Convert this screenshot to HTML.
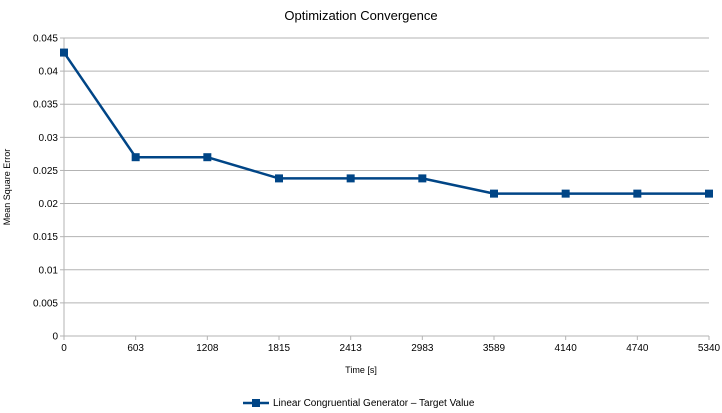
<!DOCTYPE html>
<html><head><meta charset="utf-8"><style>
body{margin:0;background:#fff;font-family:"Liberation Sans",sans-serif;}
svg text{font-family:"Liberation Sans",sans-serif;fill:#000;}
</style></head><body>
<svg id="chart" width="722" height="408" xmlns="http://www.w3.org/2000/svg">
<rect width="722" height="408" fill="#fff"/>
<text x="361" y="20" font-size="13" text-anchor="middle">Optimization Convergence</text>
<g id="grid"></g><g id="axes"></g><g id="series"></g>
<text x="361" y="373" font-size="9" text-anchor="middle">Time [s]</text>
<text transform="translate(10,187) rotate(-90)" font-size="9" text-anchor="middle">Mean Square Error</text>
<g>
<line x1="243" y1="403" x2="269" y2="403" stroke="#004586" stroke-width="2.5"/>
<rect x="252" y="399" width="8" height="8" fill="#004586"/>
<text x="273" y="406" font-size="10">Linear Congruential Generator – Target Value</text>
</g>
</svg>
<script>
const categories=["0","603","1208","1815","2413","2983","3589","4140","4740","5340"];
const values=[0.0428,0.027,0.027,0.0238,0.0238,0.0238,0.0215,0.0215,0.0215,0.0215];
const yTicks=[0,0.005,0.01,0.015,0.02,0.025,0.03,0.035,0.04,0.045];
const NS="http://www.w3.org/2000/svg";
const x0=64,x1=709,y0=336,y1=38,yMax=0.045;
const xs=i=>x0+i*(x1-x0)/(categories.length-1);
const ys=v=>y0-v/yMax*(y0-y1);
function mk(t,a,p){const e=document.createElementNS(NS,t);for(const k in a)e.setAttribute(k,a[k]);p.appendChild(e);return e;}
const grid=document.getElementById('grid'),axes=document.getElementById('axes'),ser=document.getElementById('series');
yTicks.forEach(v=>{
 const l=mk('line',{x1:x0,x2:x1,y1:ys(v),y2:ys(v),stroke:v===0?'#b3b3b3':'#b3b3b3','stroke-width':1},grid);
 
 
 const tk=mk('line',{x1:x0-4,x2:x0,y1:ys(v),y2:ys(v),stroke:'#b3b3b3'},axes);
 
 
 const t=mk('text',{x:x0-6,y:ys(v)+3.5,'font-size':10,'text-anchor':'end'},axes);
 t.textContent=String(v);
 
 
});
const ya=mk('line',{x1:x0,x2:x0,y1:y1,y2:y0,stroke:'#b3b3b3'},axes);


categories.forEach((c,i)=>{
 const tk=mk('line',{x1:xs(i),x2:xs(i),y1:y0,y2:y0+4,stroke:'#b3b3b3'},axes);
 
 
 const t=mk('text',{x:xs(i),y:y0+15,'font-size':10,'text-anchor':'middle'},axes);
 t.textContent=c;
 
 
});
const pl=mk('polyline',{points:values.map((v,i)=>xs(i)+','+ys(v)).join(' '),fill:'none',stroke:'#004586','stroke-width':2.5,'stroke-linejoin':'round'},ser);


values.forEach((v,i)=>{
 const r=mk('rect',{x:xs(i)-4,y:ys(v)-4,width:8,height:8,fill:'#004586'},ser);
 
 
});
</script>
</body></html>
